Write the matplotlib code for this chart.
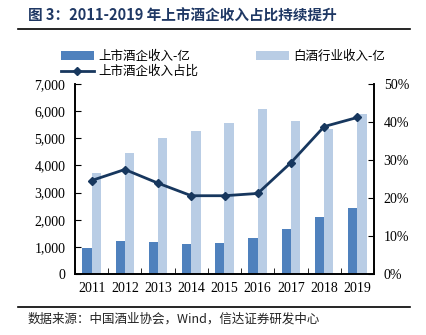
import numpy as np
import matplotlib.pyplot as plt
from matplotlib.ticker import FuncFormatter

plt.rcParams['font.family'] = ['Liberation Serif', 'Noto Sans CJK SC']

years = ['2011', '2012', '2013', '2014', '2015', '2016', '2017', '2018', '2019']
listed_rev = [940, 1225, 1185, 1100, 1140, 1310, 1640, 2095, 2435]       # 上市酒企收入-亿
industry_rev = [3725, 4460, 5000, 5260, 5550, 6090, 5635, 5330, 5880]   # 白酒行业收入-亿
share = [24.6, 27.5, 23.9, 20.6, 20.6, 21.2, 29.3, 38.8, 41.2]           # 上市酒企收入占比 %

dark = '#4F81BD'
light = '#B9CDE5'
navy = '#17375E'

fig = plt.figure(figsize=(4.26, 3.35), dpi=100)
ax = fig.add_axes([75/426, 1-274/335, 299/426, 190/335])
ax2 = ax.twinx()

x = np.arange(len(years))
w = 0.28
b1 = ax.bar(x - w/2, listed_rev, w, color=dark, label='上市酒企收入-亿', zorder=2)
b2 = ax.bar(x + w/2, industry_rev, w, color=light, label='白酒行业收入-亿', zorder=2)
l1, = ax2.plot(x, share, color=navy, lw=2, marker='D', ms=4, label='上市酒企收入占比')

ax.set_xlim(-0.5, len(years) - 0.5)
ax.set_ylim(0, 7000)
ax.set_yticks(range(0, 7001, 1000))
ax.yaxis.set_major_formatter(FuncFormatter(lambda v, p: f'{int(v):,}'))
ax2.set_ylim(0, 50)
ax2.set_yticks(range(0, 51, 10))
ax2.yaxis.set_major_formatter(FuncFormatter(lambda v, p: f'{int(v)}%'))

ax.set_xticks(x)
ax.set_xticklabels(years)
ax.set_xticks(np.arange(-0.5, len(years), 1), minor=True)
ax.tick_params(axis='x', which='major', length=0, pad=6, labelsize=10)
ax.tick_params(axis='x', which='minor', length=4, direction='in')
ax.tick_params(axis='y', direction='in', length=4, labelsize=10, pad=7)
ax2.tick_params(axis='y', direction='in', length=4, labelsize=10, pad=7)

for a in (ax, ax2):
    a.spines['top'].set_visible(False)
    for s in ('left', 'right', 'bottom'):
        a.spines[s].set_linewidth(1.2)

fig.legend(handles=[b1, l1, b2], ncol=2, loc='upper left', bbox_to_anchor=(56/426, 1-45/335),
           frameon=False, prop={'family': 'Noto Sans CJK SC', 'size': 9},
           handlelength=2.6, columnspacing=4.6, labelspacing=0.15, handletextpad=0.4, borderaxespad=0)

fig.text(28/426, 1-16/335, '图 3：2011-2019 年上市酒企收入占比持续提升', fontsize=10.5, fontweight='bold',
         color='#1F3864', family=['Noto Sans CJK SC', 'DejaVu Sans'], va='center')
fig.add_artist(plt.Line2D([18/426, 410/426], [1-29/335, 1-29/335], color='black', lw=1.2))
fig.add_artist(plt.Line2D([18/426, 410/426], [1-307/335, 1-307/335], color='black', lw=1.2))
fig.text(28/426, 1-319/335, '数据来源：中国酒业协会，Wind，信达证券研发中心', fontsize=9, style='italic',
         color='#222222', family=['Noto Sans CJK SC', 'DejaVu Sans'], va='center')

fig.savefig('out.png', dpi=100)
